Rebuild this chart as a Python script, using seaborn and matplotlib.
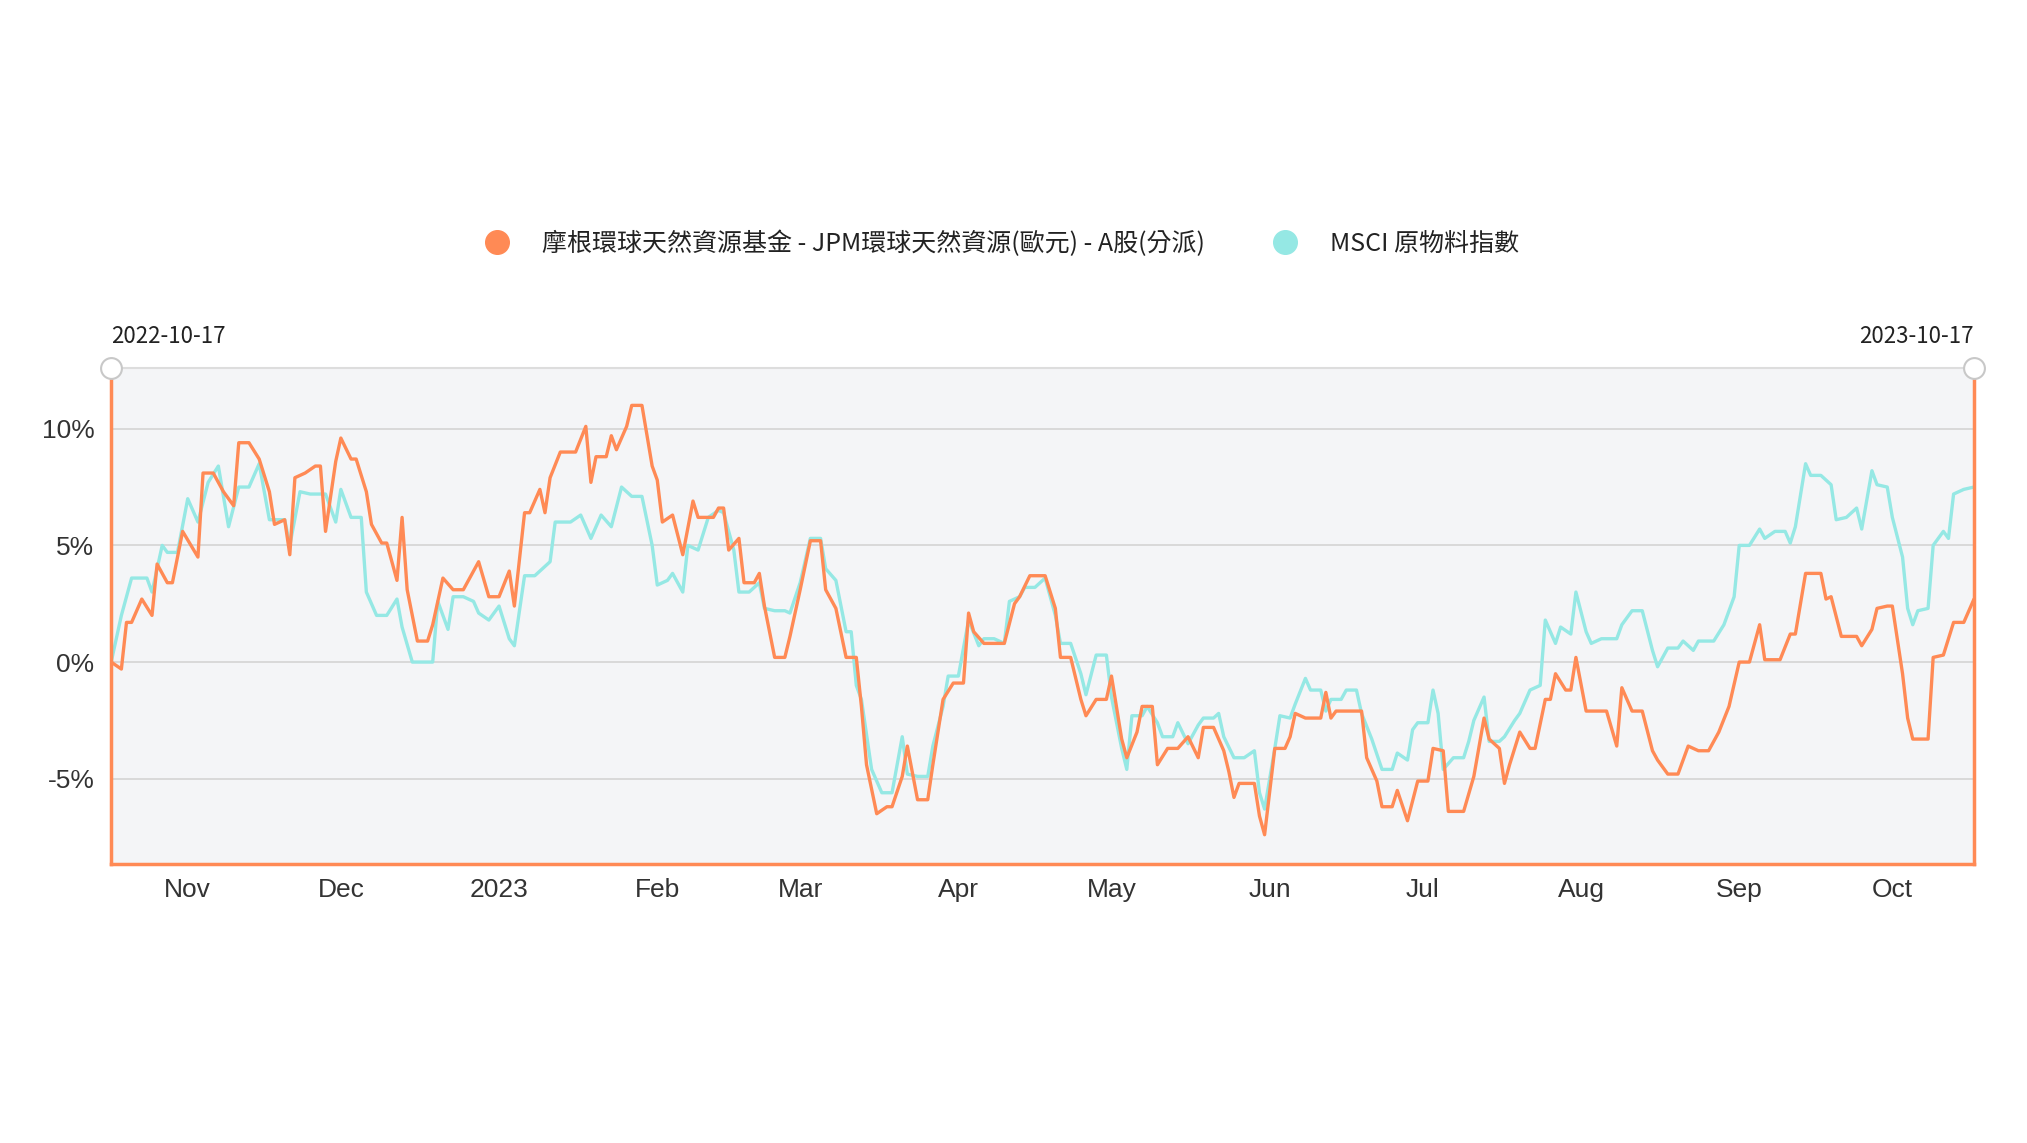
import matplotlib
matplotlib.use("Agg")
import matplotlib.pyplot as plt
import seaborn as sns
import pandas as pd
from matplotlib.lines import Line2D

start_date = "2022-10-17"
end_date = "2023-10-17"
fund_name = "摩根環球天然資源基金 - JPM環球天然資源(歐元) - A股(分派)"
index_name = "MSCI 原物料指數"

# (day offset from start, return %)
fund_points = [(0,0.0),(2,-0.3),(3,1.7),(4,1.7),(6,2.7),(8,2.0),(9,4.2),(11,3.4),(12,3.4),(14,5.6),(17,4.5),(18,8.1),(20,8.1),(22,7.3),(24,6.7),(25,9.4),(27,9.4),(29,8.7),(31,7.3),(32,5.9),(34,6.1),(35,4.6),(36,7.9),(38,8.1),(40,8.4),(41,8.4),(42,5.6),(44,8.6),(45,9.6),(47,8.7),(48,8.7),(50,7.3),(51,5.9),(53,5.1),(54,5.1),(56,3.5),(57,6.2),(58,3.1),(60,0.9),(62,0.9),(63,1.6),(65,3.6),(67,3.1),(69,3.1),(72,4.3),(74,2.8),(76,2.8),(78,3.9),(79,2.4),(81,6.4),(82,6.4),(84,7.4),(85,6.4),(86,7.9),(88,9.0),(91,9.0),(93,10.1),(94,7.7),(95,8.8),(97,8.8),(98,9.7),(99,9.1),(101,10.1),(102,11.0),(104,11.0),(106,8.4),(107,7.8),(108,6.0),(110,6.3),(112,4.6),(114,6.9),(115,6.2),(118,6.2),(119,6.6),(120,6.6),(121,4.8),(123,5.3),(124,3.4),(126,3.4),(127,3.8),(128,2.4),(130,0.2),(132,0.2),(133,1.1),(135,3.1),(137,5.2),(139,5.2),(140,3.1),(142,2.3),(144,0.2),(146,0.2),(147,-1.9),(148,-4.4),(150,-6.5),(152,-6.2),(153,-6.2),(155,-4.9),(156,-3.6),(158,-5.9),(160,-5.9),(161,-4.4),(163,-1.6),(165,-0.9),(167,-0.9),(168,2.1),(169,1.3),(171,0.8),(173,0.8),(175,0.8),(177,2.5),(178,2.8),(180,3.7),(183,3.7),(185,2.3),(186,0.2),(188,0.2),(190,-1.6),(191,-2.3),(193,-1.6),(195,-1.6),(196,-0.6),(198,-3.3),(199,-4.1),(201,-3.0),(202,-1.9),(204,-1.9),(205,-4.4),(207,-3.7),(209,-3.7),(211,-3.2),(213,-4.1),(214,-2.8),(216,-2.8),(218,-3.8),(219,-4.7),(220,-5.8),(221,-5.2),(224,-5.2),(225,-6.6),(226,-7.4),(228,-3.7),(230,-3.7),(231,-3.2),(232,-2.2),(234,-2.4),(237,-2.4),(238,-1.3),(239,-2.4),(240,-2.1),(242,-2.1),(245,-2.1),(246,-4.1),(248,-5.1),(249,-6.2),(251,-6.2),(252,-5.5),(254,-6.8),(256,-5.1),(258,-5.1),(259,-3.7),(261,-3.8),(262,-6.4),(265,-6.4),(267,-4.9),(269,-2.4),(270,-3.3),(272,-3.7),(273,-5.2),(274,-4.4),(276,-3.0),(278,-3.7),(279,-3.7),(281,-1.6),(282,-1.6),(283,-0.5),(285,-1.2),(286,-1.2),(287,0.2),(289,-2.1),(291,-2.1),(293,-2.1),(295,-3.6),(296,-1.1),(298,-2.1),(300,-2.1),(302,-3.8),(303,-4.2),(305,-4.8),(307,-4.8),(309,-3.6),(311,-3.8),(313,-3.8),(315,-3.0),(317,-1.9),(319,0.0),(321,0.0),(323,1.6),(324,0.1),(327,0.1),(329,1.2),(330,1.2),(332,3.8),(335,3.8),(336,2.7),(337,2.8),(339,1.1),(342,1.1),(343,0.7),(345,1.4),(346,2.3),(348,2.4),(349,2.4),(351,-0.5),(352,-2.4),(353,-3.3),(356,-3.3),(357,0.2),(359,0.3),(361,1.7),(363,1.7),(365,2.7)]

index_points = [(0,0.0),(2,2.0),(4,3.6),(7,3.6),(8,3.0),(10,5.0),(11,4.7),(13,4.7),(15,7.0),(17,6.0),(19,7.7),(21,8.4),(23,5.8),(25,7.5),(27,7.5),(29,8.5),(31,6.1),(33,6.1),(34,6.1),(35,5.0),(37,7.3),(39,7.2),(42,7.2),(44,6.0),(45,7.4),(47,6.2),(49,6.2),(50,3.0),(52,2.0),(54,2.0),(56,2.7),(57,1.5),(59,0.0),(61,0.0),(63,0.0),(64,2.6),(66,1.4),(67,2.8),(69,2.8),(71,2.6),(72,2.1),(74,1.8),(76,2.4),(78,1.0),(79,0.7),(81,3.7),(83,3.7),(86,4.3),(87,6.0),(90,6.0),(92,6.3),(94,5.3),(96,6.3),(98,5.8),(100,7.5),(102,7.1),(104,7.1),(106,5.0),(107,3.3),(109,3.5),(110,3.8),(112,3.0),(113,5.0),(115,4.8),(117,6.2),(119,6.5),(120,6.4),(122,4.8),(123,3.0),(125,3.0),(127,3.4),(128,2.3),(130,2.2),(132,2.2),(133,2.1),(135,3.4),(137,5.3),(139,5.3),(140,4.0),(142,3.5),(144,1.3),(145,1.3),(146,-1.0),(147,-1.6),(149,-4.6),(151,-5.6),(153,-5.6),(155,-3.2),(156,-4.8),(158,-4.9),(160,-4.9),(161,-3.6),(163,-1.9),(164,-0.6),(166,-0.6),(168,1.8),(170,0.7),(171,1.0),(173,1.0),(175,0.8),(176,2.6),(178,2.8),(179,3.2),(181,3.2),(183,3.6),(185,2.0),(186,0.8),(188,0.8),(190,-0.5),(191,-1.4),(193,0.3),(195,0.3),(196,-1.5),(198,-3.7),(199,-4.6),(200,-2.3),(202,-2.3),(203,-1.9),(205,-2.6),(206,-3.2),(208,-3.2),(209,-2.6),(211,-3.5),(213,-2.7),(214,-2.4),(216,-2.4),(217,-2.2),(218,-3.2),(220,-4.1),(222,-4.1),(224,-3.8),(225,-5.6),(226,-6.3),(228,-3.7),(229,-2.3),(231,-2.4),(232,-1.8),(234,-0.7),(235,-1.2),(237,-1.2),(238,-2.1),(239,-1.6),(241,-1.6),(242,-1.2),(244,-1.2),(245,-2.2),(247,-3.3),(249,-4.6),(251,-4.6),(252,-3.9),(254,-4.2),(255,-2.9),(256,-2.6),(258,-2.6),(259,-1.2),(260,-2.2),(261,-4.6),(263,-4.1),(265,-4.1),(266,-3.4),(267,-2.5),(269,-1.5),(270,-3.4),(272,-3.4),(273,-3.2),(275,-2.5),(276,-2.2),(278,-1.2),(280,-1.0),(281,1.8),(283,0.8),(284,1.5),(286,1.2),(287,3.0),(289,1.3),(290,0.8),(292,1.0),(295,1.0),(296,1.6),(298,2.2),(300,2.2),(302,0.5),(303,-0.2),(305,0.6),(307,0.6),(308,0.9),(310,0.5),(311,0.9),(314,0.9),(316,1.6),(318,2.8),(319,5.0),(321,5.0),(323,5.7),(324,5.3),(326,5.6),(328,5.6),(329,5.1),(330,5.8),(332,8.5),(333,8.0),(335,8.0),(337,7.6),(338,6.1),(340,6.2),(342,6.6),(343,5.7),(345,8.2),(346,7.6),(348,7.5),(349,6.2),(351,4.5),(352,2.3),(353,1.6),(354,2.2),(356,2.3),(357,5.0),(359,5.6),(360,5.3),(361,7.2),(363,7.4),(365,7.5)]

month_ticks = ["2022-11-01","2022-12-01","2023-01-01","2023-02-01","2023-03-01","2023-04-01",
               "2023-05-01","2023-06-01","2023-07-01","2023-08-01","2023-09-01","2023-10-01"]
month_labels = ["Nov","Dec","2023","Feb","Mar","Apr","May","Jun","Jul","Aug","Sep","Oct"]
y_ticks = [-5, 0, 5, 10]
y_labels = ["-5%", "0%", "5%", "10%"]

ORANGE = "#ff8a55"
CYAN = "#95e8e4"

t0 = pd.Timestamp(start_date)
def to_df(points, name):
    d, v = zip(*points)
    return pd.DataFrame({"date": [t0 + pd.Timedelta(days=int(x)) for x in d], "value": v, "series": name})

df = pd.concat([to_df(index_points, index_name), to_df(fund_points, fund_name)], ignore_index=True)

sns.set_theme(style="white")
plt.rcParams['font.family'] = ['Noto Sans CJK TC', 'DejaVu Sans']

fig = plt.figure(figsize=(20.27, 11.43), dpi=100)
ax = fig.add_axes([86/1568, 1-667/882, (1527-86)/1568, (667-284)/882])
ax.set_facecolor("#f4f5f7")

sns.lineplot(data=df, x="date", y="value", hue="series", palette={fund_name: ORANGE, index_name: CYAN},
             hue_order=[index_name, fund_name], linewidth=2.4, ax=ax, legend=False)

ax.set_xlim(pd.Timestamp(start_date), pd.Timestamp(end_date))
ax.set_ylim(-8.67, 12.6)
ax.set_yticks(y_ticks)
ax.set_yticklabels(y_labels, fontsize=19, color="#333333", family=['Liberation Sans'])
ax.set_xticks([pd.Timestamp(m) for m in month_ticks])
ax.set_xticklabels(month_labels, fontsize=19, color="#333333", family=['Liberation Sans'])
ax.tick_params(axis="y", length=0, pad=12)
ax.tick_params(axis="x", length=0, pad=10)
ax.set_xlabel(""); ax.set_ylabel("")
ax.grid(axis="y", color="#d4d4d4", linewidth=1.2)
for s in ["left", "right", "bottom"]:
    ax.spines[s].set_color(ORANGE); ax.spines[s].set_linewidth(2.5)
ax.spines["top"].set_color("#dddddd"); ax.spines["top"].set_linewidth(1.5)

for xp in [0, 1]:
    ax.plot([xp], [1], marker="o", markersize=15, markerfacecolor="white", markeredgecolor="#c8c8c8",
            markeredgewidth=1.5, transform=ax.transAxes, clip_on=False, zorder=10)
ax.text(0, 1.04, start_date, transform=ax.transAxes, ha="left", va="bottom", fontsize=16, color="#222222")
ax.text(1, 1.04, end_date, transform=ax.transAxes, ha="right", va="bottom", fontsize=16, color="#222222")

handles = [Line2D([], [], marker="o", linestyle="", markersize=17, color=ORANGE),
           Line2D([], [], marker="o", linestyle="", markersize=17, color=CYAN)]
fig.legend(handles, [fund_name, index_name], loc="center", bbox_to_anchor=(0.491, 1-188/882), ncol=2,
           frameon=False, fontsize=18, handletextpad=0.8, columnspacing=2.2, labelcolor="#222222")

fig.savefig("out.png", dpi=100, facecolor="white")
